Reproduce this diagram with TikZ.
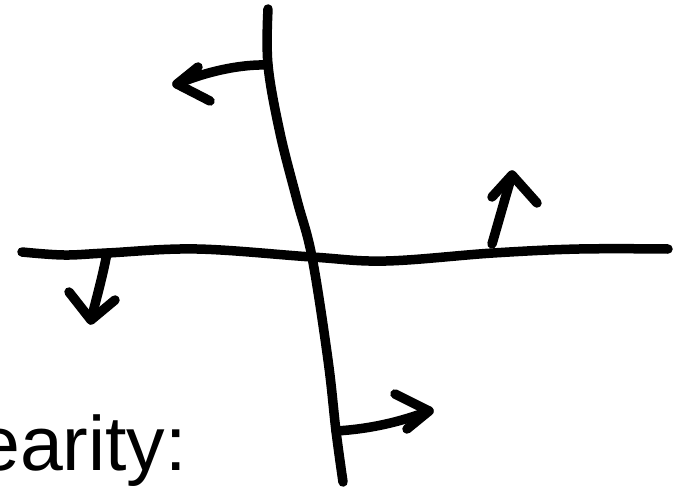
\documentclass[tikz,border=0pt]{standalone}
\usepackage{fontspec}
\setmainfont{Liberation Sans}
\begin{document}
\begin{tikzpicture}[x=1pt,y=-1pt,
  stroke/.style={line width=9.5pt,line cap=round,line join=round,black},
  label/.style={inner sep=0pt,anchor=base west,font=\fontsize{77}{80}\selectfont}]
\useasboundingbox (0,0) rectangle (673,490);
% named points
\coordinate (vtop) at (268,9);
\coordinate (vA) at (268,65);
\coordinate (vX) at (312,257);
\coordinate (vB) at (336,431);
\coordinate (vbot) at (343,482);
\coordinate (hL) at (22,252);
\coordinate (hA) at (107,253);
\coordinate (hB) at (493,253);
\coordinate (hR) at (668,249);
% vertical line
\draw[stroke] plot[smooth,tension=0.6] coordinates {(vtop) (vA) (280,133) (297,200) (vX) (328,360) (vB) (vbot)};
% horizontal line
\draw[stroke] plot[smooth,tension=0.6] coordinates {(hL) (64,255) (hA) (197,249) (vX) (386,261) (hB) (579,249) (hR)};
% arrow 1 (top-left)
\coordinate (t1) at (177,84);
\draw[stroke] (vA) .. controls (240,64) and (205,72) .. (t1);
\draw[stroke] (198,67) -- (t1) -- (210,101);
% arrow 2 (left, down)
\coordinate (t2) at (91,320);
\draw[stroke] (hA) .. controls (103,275) and (96,300) .. (t2);
\draw[stroke] (69,292) -- (t2) -- (115,300);
% arrow 3 (right, up)
\coordinate (t3) at (512,175);
\draw[stroke] (492,244) .. controls (499,220) and (506,195) .. (t3);
\draw[stroke] (492,197) -- (t3) -- (537,203);
% arrow 4 (bottom-right)
\coordinate (t4) at (429,411);
\draw[stroke] (vB) .. controls (370,429) and (400,422) .. (t4);
\draw[stroke] (395,394) -- (t4) -- (407,429);
% text
\node[label] (txt) at (-23,470) {earity:};
\end{tikzpicture}
\end{document}
